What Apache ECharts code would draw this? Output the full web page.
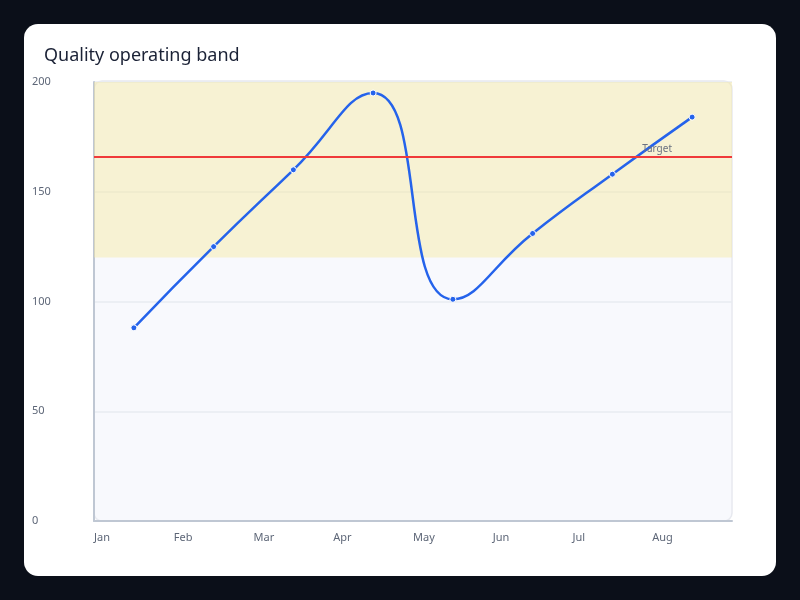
<!DOCTYPE html>
<html>
<head>
<meta charset="utf-8">
<title>Quality operating band</title>
<script src="https://cdn.jsdelivr.net/npm/echarts@6/dist/echarts.min.js"></script>
<style>
    html, body {
        margin: 0;
        padding: 0;
        background: #0b0f19;
    }
    #chart {
        width: 800px;
        height: 600px;
    }
</style>
</head>
<body>
<div id="chart"></div>
<script>
    // data
    var months = ['Jan', 'Feb', 'Mar', 'Apr', 'May', 'Jun', 'Jul', 'Aug'];
    var quality = [88, 125, 160, 195, 101, 131, 158, 184];
    var bandLow = 120;
    var bandHigh = 200;
    var targetValue = 166;
    var yTicks = [0, 50, 100, 150, 200];

    var chart = echarts.init(document.getElementById('chart'));

    var option = {
        backgroundColor: '#0b0f19',
        animation: false,
        textStyle: { fontFamily: 'Noto Sans' },
        title: {
            text: 'Quality operating band',
            left: 39,
            top: 42,
            textStyle: { fontSize: 18, fontWeight: 'normal', color: '#1b2236', fontFamily: 'Noto Sans' }
        },
        graphic: [
            {
                type: 'rect', z: -20, silent: true,
                shape: { x: 24, y: 24, width: 752, height: 552, r: 14 },
                style: { fill: '#ffffff' }
            },
            {
                type: 'rect', z: -19, silent: true,
                shape: { x: 94, y: 81, width: 638, height: 440, r: 8 },
                style: { fill: '#f8f9fd', stroke: '#e7e9ef', lineWidth: 1.5 }
            }
        ],
        grid: { left: 94, right: 68, top: 82, bottom: 79 },
        xAxis: [
            {
                type: 'category',
                data: months,
                boundaryGap: true,
                axisLine: { show: true, lineStyle: { color: '#bfc7d3', width: 2 } },
                axisTick: { show: false },
                axisLabel: { show: false },
                splitLine: { show: false }
            },
            {
                // label row: names sit at the band edges, left aligned
                type: 'category',
                position: 'bottom',
                data: months.concat(['']),
                boundaryGap: false,
                axisLine: { show: false },
                axisTick: { show: false },
                splitLine: { show: false },
                axisLabel: { align: 'left', margin: 11, fontSize: 11, color: '#5d6677', interval: 0 }
            }
        ],
        yAxis: {
            type: 'value',
            min: yTicks[0],
            max: yTicks[yTicks.length - 1],
            interval: 50,
            axisLine: { show: true, lineStyle: { color: '#bfc7d3', width: 2 } },
            axisTick: { show: false },
            axisLabel: { align: 'left', margin: 62, fontSize: 11, color: '#5d6677' },
            splitLine: { lineStyle: { color: '#e8ebf0', width: 1.5 } }
        },
        series: [
            {
                name: 'Quality',
                type: 'line',
                xAxisIndex: 0,
                data: quality,
                smooth: true,
                symbol: 'circle',
                symbolSize: 6,
                lineStyle: { color: '#2563eb', width: 2.5 },
                itemStyle: { color: '#2563eb', borderColor: '#ffffff', borderWidth: 1 },
                markArea: {
                    silent: true,
                    itemStyle: { color: 'rgba(247, 232, 160, 0.45)' },
                    data: [[{ yAxis: bandLow }, { yAxis: bandHigh }]]
                },
                markLine: {
                    silent: true,
                    symbol: 'none',
                    lineStyle: { color: '#f03a3a', width: 2, type: 'solid' },
                    label: {
                        formatter: 'Target',
                        position: 'insideEndTop',
                        distance: 2,
                        color: '#6b7280',
                        fontSize: 10,
                        padding: [0, 58, 0, 0]
                    },
                    data: [{ yAxis: targetValue }]
                }
            }
        ]
    };

    chart.setOption(option);
</script>
</body>
</html>
